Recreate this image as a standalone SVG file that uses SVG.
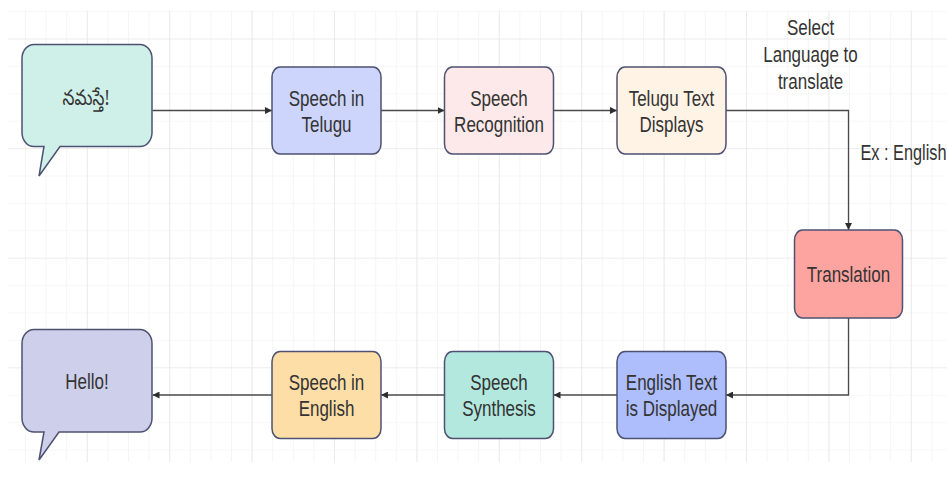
<svg xmlns="http://www.w3.org/2000/svg" width="947" height="486" viewBox="0 0 947 486">
  <style>
    .node { stroke: #4e5272; stroke-width: 1.5; }
    .lbl { font-family: "Liberation Sans", Arial, sans-serif; font-size: 17px; fill: #333333; text-anchor: middle; }
    .te { font-family: "Noto Sans Telugu", "Noto Sans", "Liberation Sans", sans-serif; font-size: 17px; fill: #333333; text-anchor: middle; }
    .edge { fill: none; stroke: #4a4a4a; stroke-width: 1.3; }
  </style>
  <defs>
    <pattern id="minor" patternUnits="userSpaceOnUse" x="4.4" y="11.1" width="20.6" height="27.4">
      <path d="M0,0 V27.4 M0,0 H20.6" fill="none" stroke="#efefef" stroke-width="1.2"/>
    </pattern>
    <pattern id="major" patternUnits="userSpaceOnUse" x="4.4" y="38.5" width="82.4" height="109.6">
      <path d="M0,0 V109.6 M0,0 H82.4" fill="none" stroke="#e3e3e3" stroke-width="1.2"/>
    </pattern>
    <marker id="arr" viewBox="0 0 10 10" refX="10" refY="5" markerWidth="7" markerHeight="7" markerUnits="userSpaceOnUse" orient="auto">
      <path d="M0,0 L10,5 L0,10 Z" fill="#2e2e2e"/>
    </marker>
  </defs>
  <rect width="947" height="486" fill="#ffffff"/>
  <rect x="8" y="11" width="939" height="451" fill="url(#minor)"/>
  <rect x="8" y="11" width="939" height="451" fill="url(#major)"/>

  <g id="connectors">
    <path class="edge" d="M152.5,110.5 H272" marker-end="url(#arr)"/>
    <path class="edge" d="M381,110.5 H444.5" marker-end="url(#arr)"/>
    <path class="edge" d="M553.5,110.5 H617" marker-end="url(#arr)"/>
    <path class="edge" d="M726,110.5 H848.5 V230" marker-end="url(#arr)"/>
    <path class="edge" d="M848.5,318 V395 H726" marker-end="url(#arr)"/>
    <path class="edge" d="M617,395 H553.5" marker-end="url(#arr)"/>
    <path class="edge" d="M444.5,395 H381" marker-end="url(#arr)"/>
    <path class="edge" d="M272,395 H152.5" marker-end="url(#arr)"/>
    <text class="lbl" transform="translate(810.5,35) scale(1,1.33)">Select</text>
    <text class="lbl" transform="translate(810.5,62) scale(1,1.33)">Language to</text>
    <text class="lbl" transform="translate(810.5,88.5) scale(1,1.33)">translate</text>
    <text class="lbl" style="text-anchor:start;font-size:16.3px" transform="translate(860.5,160) scale(1,1.38)">Ex : English</text>
  </g>

  <g id="namaste">
    <path class="node" fill="#cff0e8" d="M34,44.5 H140 A12,14 0 0 1 152,58.5 V132.5 A12,14 0 0 1 140,146.5 H60 L39,176 L44,146.5 H34 A12,14 0 0 1 22,132.5 V58.5 A12,14 0 0 1 34,44.5 Z"/>
    <text class="te" transform="translate(86,105) scale(1,1.25)">నమస్తే!</text>
  </g>
  <g id="speech-telugu">
    <rect class="node" x="272" y="67" width="109" height="87" rx="8" ry="10" fill="#cdd5fc"/>
    <text class="lbl" transform="translate(326.5,106) scale(1,1.33)">Speech in</text>
    <text class="lbl" transform="translate(326.5,132) scale(1,1.33)">Telugu</text>
  </g>
  <g id="speech-recognition">
    <rect class="node" x="444.5" y="67" width="109" height="87" rx="8" ry="10" fill="#fde9e9"/>
    <text class="lbl" transform="translate(499,106) scale(1,1.33)">Speech</text>
    <text class="lbl" transform="translate(499,132) scale(1,1.33)">Recognition</text>
  </g>
  <g id="telugu-text">
    <rect class="node" x="617" y="67" width="109" height="87" rx="8" ry="10" fill="#fff3e6"/>
    <text class="lbl" transform="translate(671.5,106) scale(1,1.33)">Telugu Text</text>
    <text class="lbl" transform="translate(671.5,132) scale(1,1.33)">Displays</text>
  </g>
  <g id="translation">
    <rect class="node" x="794.5" y="230" width="108" height="88" rx="8" ry="10" fill="#fda3a0"/>
    <text class="lbl" transform="translate(848.5,281.5) scale(1,1.33)">Translation</text>
  </g>
  <g id="english-text">
    <rect class="node" x="617" y="351.5" width="109" height="87" rx="8" ry="10" fill="#aebdfc"/>
    <text class="lbl" transform="translate(671.5,389.5) scale(1,1.33)">English Text</text>
    <text class="lbl" transform="translate(671.5,416) scale(1,1.33)">is Displayed</text>
  </g>
  <g id="speech-synthesis">
    <rect class="node" x="444.5" y="351.5" width="109" height="87" rx="8" ry="10" fill="#b2e8de"/>
    <text class="lbl" transform="translate(499,389.5) scale(1,1.33)">Speech</text>
    <text class="lbl" transform="translate(499,416) scale(1,1.33)">Synthesis</text>
  </g>
  <g id="speech-english">
    <rect class="node" x="272" y="351.5" width="109" height="87" rx="8" ry="10" fill="#fddea7"/>
    <text class="lbl" transform="translate(326.5,389.5) scale(1,1.33)">Speech in</text>
    <text class="lbl" transform="translate(326.5,416) scale(1,1.33)">English</text>
  </g>
  <g id="hello">
    <path class="node" fill="#cdcfeb" d="M34,329.5 H140 A12,14 0 0 1 152,343.5 V418 A12,14 0 0 1 140,432 H59 L39,460 L44,432 H34 A12,14 0 0 1 22,418 V343.5 A12,14 0 0 1 34,329.5 Z"/>
    <text class="lbl" transform="translate(87,389) scale(1,1.33)">Hello!</text>
  </g>
</svg>
